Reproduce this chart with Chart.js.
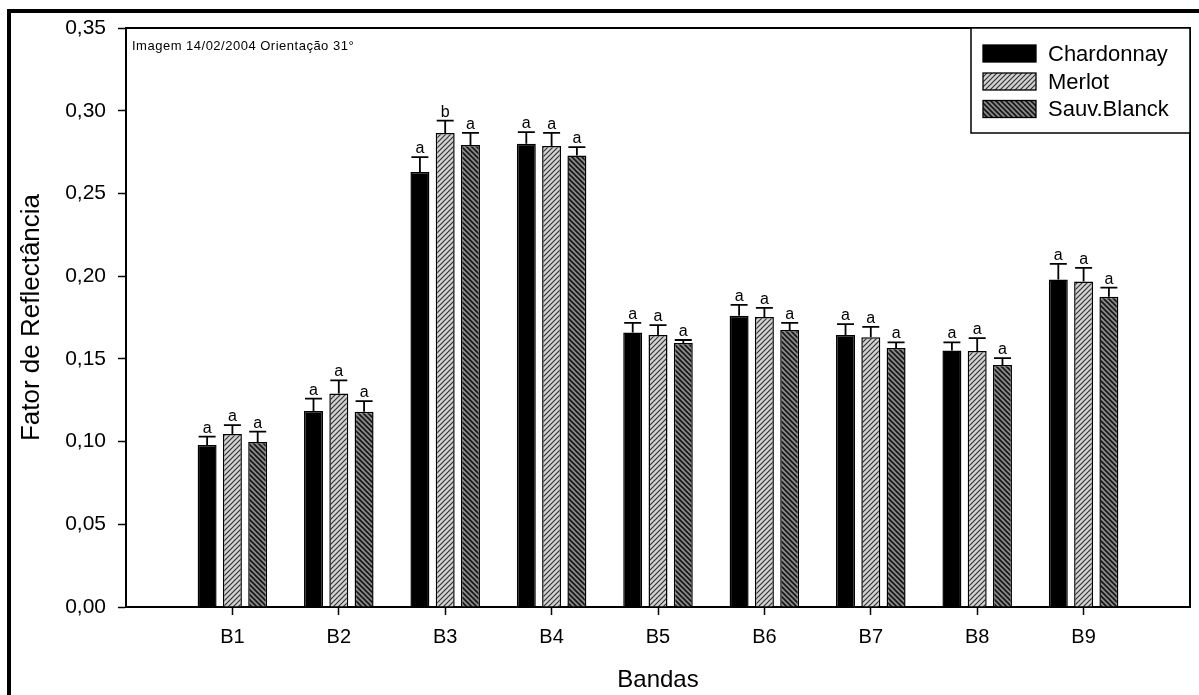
<!DOCTYPE html>
<html>
<head>
<meta charset="utf-8">
<script src="https://cdn.jsdelivr.net/npm/chart.js@4.4.1/dist/chart.umd.min.js"></script>
<style>
  html, body { margin: 0; padding: 0; background: #fff; }
  canvas { display: block; }
</style>
</head>
<body>
<canvas id="bandChart" width="1199" height="695"></canvas>
<script>
// ==================== DATA ====================

const categories = ['B1', 'B2', 'B3', 'B4', 'B5', 'B6', 'B7', 'B8', 'B9'];
const seriesNames = ['Chardonnay', 'Merlot', 'Sauv.Blanck'];

// media do fator de reflectancia por banda
const chardonnay = [0.098, 0.1185, 0.263, 0.280, 0.166, 0.176, 0.1644, 0.155, 0.198];
const merlot     = [0.1046, 0.129, 0.2866, 0.2787, 0.1644, 0.1753, 0.163, 0.1548, 0.1967];
const sauvBlanck = [0.0998, 0.118, 0.2793, 0.273, 0.1596, 0.1675, 0.1566, 0.1463, 0.1876];

// desvio (so a parte de cima e desenhada)
const chardonnayErr = [0.005, 0.0075, 0.009, 0.007, 0.0057, 0.0066, 0.0066, 0.005, 0.0094];
const merlotErr     = [0.0054, 0.008, 0.0074, 0.0079, 0.006, 0.0055, 0.0063, 0.0077, 0.0083];
const sauvBlanckErr = [0.0062, 0.0065, 0.0073, 0.005, 0.0018, 0.0042, 0.0034, 0.0041, 0.0054];

// letras do teste de medias
const chardonnayLetters = ['a', 'a', 'a', 'a', 'a', 'a', 'a', 'a', 'a'];
const merlotLetters     = ['a', 'a', 'b', 'a', 'a', 'a', 'a', 'a', 'a'];
const sauvBlanckLetters = ['a', 'a', 'a', 'a', 'a', 'a', 'a', 'a', 'a'];

const yTicks = [0, 0.05, 0.10, 0.15, 0.20, 0.25, 0.30, 0.35];
const noteText = 'Imagem 14/02/2004 Orientação 31°';

const FONT = "'Liberation Sans', Arial, sans-serif";

// ==================== HATCH PATTERNS ====================

function makeHatch(bg, fg, dir, lw) {
  const size = 5;
  const c = document.createElement('canvas');
  c.width = size; c.height = size;
  const g = c.getContext('2d');
  g.fillStyle = bg;
  g.fillRect(0, 0, size, size);
  g.strokeStyle = fg;
  g.lineWidth = lw;
  g.beginPath();
  if (dir > 0) {
    g.moveTo(-1, size + 1); g.lineTo(size + 1, -1);
    g.moveTo(-1, 1); g.lineTo(1, -1);
    g.moveTo(size - 1, size + 1); g.lineTo(size + 1, size - 1);
  } else {
    g.moveTo(-1, -1); g.lineTo(size + 1, size + 1);
    g.moveTo(-1, size - 1); g.lineTo(1, size + 1);
    g.moveTo(size - 1, -1); g.lineTo(size + 1, 1);
  }
  g.stroke();
  return document.getElementById('bandChart').getContext('2d').createPattern(c, 'repeat');
}

const fills = [
  '#000000',
  makeHatch('#d2d2d2', '#333333', 1, 1.2),
  makeHatch('#8a8a8a', '#151515', -1, 1.6)
];

const values = [chardonnay, merlot, sauvBlanck];
const errors = [chardonnayErr, merlotErr, sauvBlanckErr];
const letters = [chardonnayLetters, merlotLetters, sauvBlanckLetters];

// ==================== PLUGINS ====================

const errorBarPlugin = {
  id: 'errorBars',
  afterDatasetsDraw(chart) {
    const ctx = chart.ctx;
    const yScale = chart.scales.y;
    ctx.save();
    ctx.strokeStyle = '#000';
    ctx.fillStyle = '#000';
    ctx.lineWidth = 1.8;
    ctx.font = '16px ' + FONT;
    ctx.textAlign = 'center';
    ctx.textBaseline = 'alphabetic';
    chart.data.datasets.forEach((ds, i) => {
      const meta = chart.getDatasetMeta(i);
      meta.data.forEach((bar, j) => {
        const top = yScale.getPixelForValue(values[i][j]);
        const capY = yScale.getPixelForValue(values[i][j] + errors[i][j]);
        ctx.beginPath();
        ctx.moveTo(bar.x, top);
        ctx.lineTo(bar.x, capY);
        ctx.moveTo(bar.x - 8.5, capY);
        ctx.lineTo(bar.x + 8.5, capY);
        ctx.stroke();
        ctx.fillText(letters[i][j], bar.x, capY - 4);
      });
    });
    ctx.restore();
  }
};

const framePlugin = {
  id: 'frame',
  afterDraw(chart) {
    const ctx = chart.ctx;
    const area = chart.chartArea;
    ctx.save();

    // caixa do grafico (topo e direita)
    ctx.strokeStyle = '#000';
    ctx.lineWidth = 2;
    ctx.beginPath();
    ctx.moveTo(area.left, area.top);
    ctx.lineTo(area.right, area.top);
    ctx.lineTo(area.right, area.bottom);
    ctx.stroke();

    // moldura externa
    ctx.lineWidth = 4;
    ctx.beginPath();
    ctx.moveTo(9, 695);
    ctx.lineTo(9, 11);
    ctx.lineTo(1199, 11);
    ctx.stroke();

    // texto da imagem
    ctx.fillStyle = '#000';
    ctx.font = '13px ' + FONT;
    ctx.textAlign = 'left';
    ctx.textBaseline = 'alphabetic';
    ctx.letterSpacing = '0.5px';
    ctx.fillText(noteText, area.left + 6, 50);
    ctx.letterSpacing = '0px';

    // legenda
    const boxL = 971, boxT = area.top, boxR = area.right, boxB = 133;
    ctx.fillStyle = '#fff';
    ctx.fillRect(boxL, boxT, boxR - boxL, boxB - boxT);
    ctx.lineWidth = 1.5;
    ctx.strokeRect(boxL, boxT, boxR - boxL, boxB - boxT);
    ctx.font = '22px ' + FONT;
    ctx.textBaseline = 'middle';
    const rows = [53.5, 81.5, 109];
    chart.data.datasets.forEach((ds, i) => {
      const cy = rows[i];
      ctx.fillStyle = ds.backgroundColor;
      ctx.fillRect(983, cy - 8.5, 53, 17);
      ctx.strokeStyle = '#000';
      ctx.lineWidth = 1.3;
      ctx.strokeRect(983, cy - 8.5, 53, 17);
      ctx.fillStyle = '#000';
      ctx.fillText(ds.label, 1048, cy + 1);
    });

    ctx.restore();
  }
};

// ==================== CHART ====================

const datasets = seriesNames.map((name, i) => ({
  label: name,
  data: categories.map((c, j) => ({ x: j + 1, y: values[i][j] })),
  backgroundColor: fills[i],
  borderColor: '#000',
  borderWidth: 1.5,
  categoryPercentage: 0.713,
  barPercentage: 0.75
}));

new Chart(document.getElementById('bandChart'), {
  type: 'bar',
  data: { datasets: datasets },
  options: {
    responsive: false,
    animation: false,
    layout: { padding: { top: 28, right: 9, left: 0, bottom: 0 } },
    plugins: {
      legend: { display: false },
      tooltip: { enabled: false }
    },
    scales: {
      x: {
        type: 'linear',
        min: 0,
        max: 10,
        offset: false,
        afterBuildTicks: (scale) => {
          scale.ticks = categories.map((c, i) => ({ value: i + 1 }));
        },
        afterFit: (scale) => { scale.height = 88; },
        grid: {
          offset: false,
          drawOnChartArea: false,
          drawTicks: true,
          tickLength: 8,
          tickColor: '#000',
          tickWidth: 1.5
        },
        border: { display: true, color: '#000', width: 2 },
        ticks: {
          autoSkip: false,
          maxRotation: 0,
          padding: 10,
          color: '#000',
          font: { family: FONT, size: 20 },
          callback: (v) => categories[v - 1] || ''
        },
        title: {
          display: true,
          text: 'Bandas',
          color: '#000',
          font: { family: FONT, size: 24 },
          padding: { top: 0, bottom: 0 }
        }
      },
      y: {
        min: 0,
        max: 0.35,
        afterBuildTicks: (scale) => {
          scale.ticks = yTicks.map(v => ({ value: v }));
        },
        afterFit: (scale) => { scale.width = 126; },
        grid: {
          drawOnChartArea: false,
          drawTicks: true,
          tickLength: 8,
          tickColor: '#000',
          tickWidth: 1.5
        },
        border: { display: true, color: '#000', width: 2 },
        ticks: {
          padding: 12,
          color: '#000',
          font: { family: FONT, size: 21 },
          callback: (v) => v.toFixed(2).replace('.', ',')
        },
        title: {
          display: true,
          text: 'Fator de Reflectância',
          color: '#000',
          font: { family: FONT, size: 26 },
          padding: { top: 16, bottom: 0 }
        }
      }
    }
  },
  plugins: [errorBarPlugin, framePlugin]
});
</script>
</body>
</html>
